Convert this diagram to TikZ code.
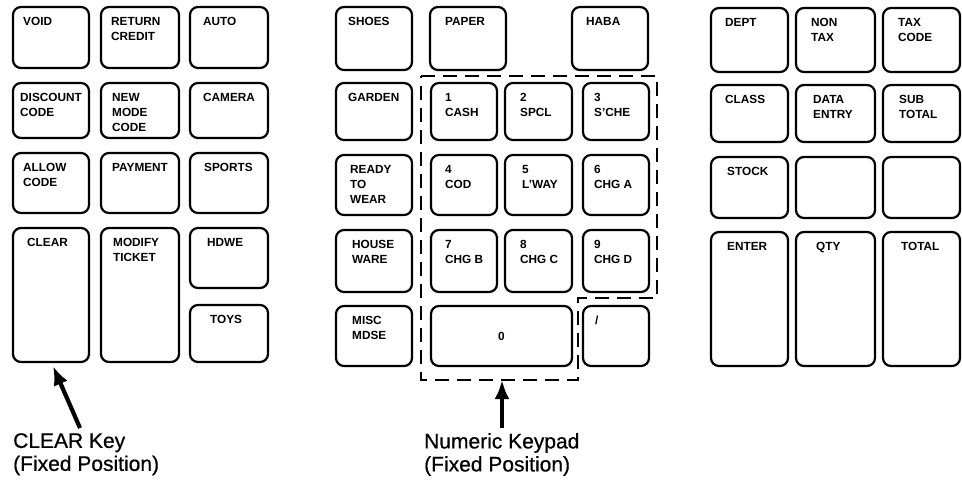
\documentclass[tikz,border=0pt]{standalone}
\usepackage{fontspec}
\setmainfont{Liberation Sans}
\newfontfamily\capfont[FakeBold=0.6]{Liberation Sans}
\usetikzlibrary{arrows.meta,calc}
\tikzset{
 keybox/.style={draw, line width=2.2pt, rounded corners=8pt, inner sep=0pt},
 keylabel/.style={anchor=north west, inner sep=0pt, align=left, font=\fontsize{11.8}{15.3}\selectfont\bfseries},
 padline/.style={line width=2pt, dash pattern=on 14pt off 8pt},
 bigarrow/.style={line width=4.2pt, -{Latex[length=19pt,width=15pt]}},
 caption/.style={anchor=north west, inner sep=0pt, align=left, font=\capfont\fontsize{21}{23}\selectfont},
}
\newcommand\kbox[5]{\node[keybox, minimum width={#4pt-#2pt}, minimum height={#5pt-#3pt}] (#1) at ({(#2+#4)/2},{(#3+#5)/2}) {};}
\newcommand\key[7]{\kbox{#1}{#2}{#3}{#4}{#5}\node[keylabel] (#1-l) at (#6,#3+10) {#7};}
\begin{document}
\begin{tikzpicture}[x=1pt,y=-1pt]
\fill[white] (0,0) rectangle (962,483);
\useasboundingbox (0,0) rectangle (962,483);
% left block
\key{void}{13}{7}{89}{68}{23}{VOID}
\key{retcredit}{101}{7}{179}{68}{111}{RETURN\\CREDIT}
\key{auto}{190}{7}{268}{68}{203}{AUTO}
\key{discount}{13}{83}{89}{138}{20}{DISCOUNT\\CODE}
\key{newmode}{101}{83}{179}{138}{112}{NEW\\MODE\\CODE}
\key{camera}{190}{83}{268}{138}{203}{CAMERA}
\key{allow}{13}{153}{89}{213}{23}{ALLOW\\CODE}
\key{payment}{101}{153}{179}{213}{112}{PAYMENT}
\key{sports}{190}{153}{268}{213}{204}{SPORTS}
\key{clear}{13}{228}{89}{362}{27}{CLEAR}
\key{modify}{101}{228}{179}{362}{113}{MODIFY\\TICKET}
\key{hdwe}{190}{228}{268}{288}{207}{HDWE}
\key{toys}{190}{305}{268}{362}{210}{TOYS}
% middle block
\key{shoes}{336}{7}{412}{70}{348}{SHOES}
\key{paper}{430}{7}{506}{70}{445}{PAPER}
\key{haba}{572}{7}{648}{70}{586}{HABA}
\key{garden}{336}{83}{412}{140}{348}{GARDEN}
\key{k1}{431}{83}{497}{140}{445}{1\\CASH}
\key{k2}{505}{83}{572}{140}{520}{2\\SPCL}
\key{k3}{583}{83}{649}{140}{594}{3\\S'CHE}
\key{ready}{336}{155}{412}{215}{350}{READY\\TO\\WEAR}
\key{k4}{431}{155}{497}{215}{445}{4\\COD}
\key{k5}{505}{155}{572}{215}{522}{5\\L'WAY}
\key{k6}{583}{155}{649}{215}{594}{6\\CHG A}
\key{house}{336}{230}{412}{292}{352}{HOUSE\\WARE}
\key{k7}{431}{230}{497}{292}{445}{7\\CHG B}
\key{k8}{505}{230}{572}{292}{520}{8\\CHG C}
\key{k9}{583}{230}{649}{292}{594}{9\\CHG D}
\key{misc}{336}{306}{412}{366}{352}{MISC\\MDSE}
\kbox{k0}{431}{306}{572}{366}
\node[keylabel, anchor=center] (k0-l) at (k0.center) {0};
\key{slash}{583}{306}{649}{366}{595}{/}
% numeric keypad outline
\draw[padline] (421,76) -- (657,76) -- (657,298) -- (578,298) -- (578,380) -- (421,380) -- cycle;
% right block
\key{dept}{711}{8}{788}{72}{725}{DEPT}
\key{nontax}{796}{8}{875}{72}{811}{NON\\TAX}
\key{taxcode}{883}{8}{960}{72}{898}{TAX\\CODE}
\key{class}{711}{85}{788}{142}{725}{CLASS}
\key{dataentry}{796}{85}{875}{142}{813}{DATA\\ENTRY}
\key{subtotal}{883}{85}{960}{142}{899}{SUB\\TOTAL}
\key{stock}{711}{157}{788}{218}{727}{STOCK}
\kbox{blanka}{796}{157}{875}{218}
\kbox{blankb}{883}{157}{960}{218}
\key{enter}{711}{232}{788}{366}{727}{ENTER}
\key{qty}{796}{232}{875}{366}{816}{QTY}
\key{total}{883}{232}{960}{366}{901}{TOTAL}
% captions and arrows
\node[caption] (clearcap) at (13,433) {CLEAR Key\\(Fixed Position)};
\node[caption] (padcap) at (424,433) {Numeric Keypad\\(Fixed Position)};
\coordinate (cleartail) at (80,428);
\coordinate (padtail) at (502,428);
\coordinate (padbot) at (502,380);
\draw[bigarrow] (cleartail) -- ([xshift=2pt,yshift=-3pt]clear.south);
\draw[bigarrow] (padtail) -- (padbot);
\end{tikzpicture}
\end{document}
